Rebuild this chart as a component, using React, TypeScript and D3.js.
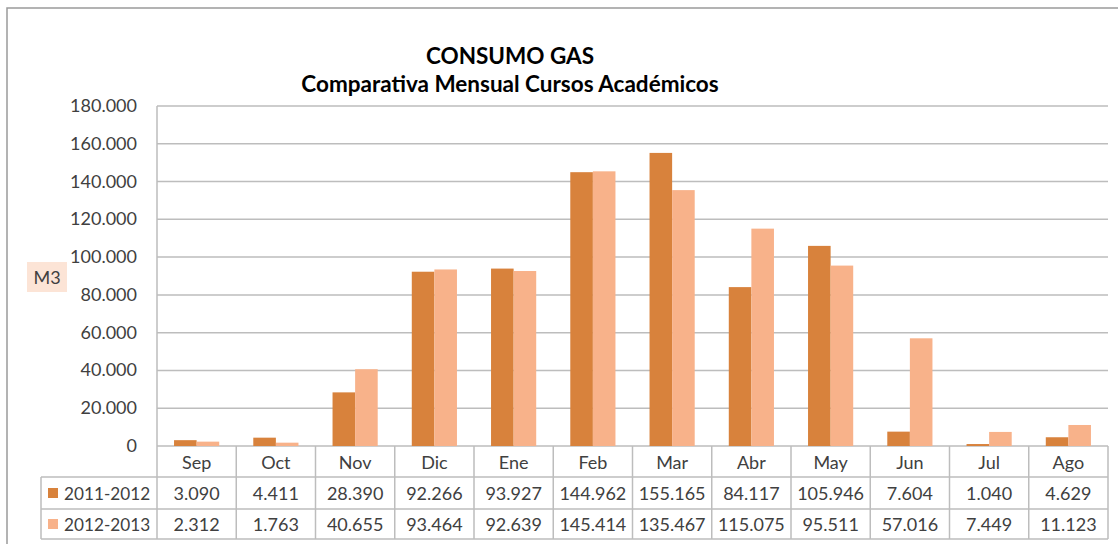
import React from "react";
import * as d3 from "d3";

const months = ["Sep", "Oct", "Nov", "Dic", "Ene", "Feb", "Mar", "Abr", "May", "Jun", "Jul", "Ago"];
const seriesNames = ["2011-2012", "2012-2013"];
const values2011 = [3090, 4411, 28390, 92266, 93927, 144962, 155165, 84117, 105946, 7604, 1040, 4629];
const values2012 = [2312, 1763, 40655, 93464, 92639, 145414, 135467, 115075, 95511, 57016, 7449, 11123];
const yTicks = [0, 20000, 40000, 60000, 80000, 100000, 120000, 140000, 160000, 180000];
const colors = ["#D8823C", "#F8B28A"];
const titleLines = ["CONSUMO GAS", "Comparativa Mensual Cursos Académicos"];

const fmt = (v: number) => {
  const s = Math.round(v).toString();
  return s.replace(/\B(?=(\d{3})+(?!\d))/g, ".");
};

export default function App() {
  const W = 1118, H = 544;
  const left = 157, right = 1108, top = 106, zeroY = 446;
  const legendLeft = 41;
  const rowBottoms = [477, 509, 539];
  const font = "Lato, 'Open Sans', sans-serif";
  const textColor = "#404040";
  const grid = "#BDBDBD";
  const fs = 18;

  const x = d3.scaleBand<string>().domain(months).range([left, right]).paddingInner(0).paddingOuter(0);
  const y = d3.scaleLinear().domain([0, 180000]).range([zeroY, top]);
  const bw = x.bandwidth();
  const groupW = bw * 0.57;
  const xs = d3.scaleBand<string>().domain(seriesNames).range([0, groupW]).padding(0);
  const series = [values2011, values2012];

  return (
    <svg width={W} height={H} style={{ position: "absolute", left: 0, top: 0 }}>
      <rect x={0} y={0} width={W} height={H} fill="#fff" />
      <rect x={7} y={8} width={W + 10} height={H + 10} fill="#fff" stroke="#9A9A9A" strokeWidth={1.5} />

      {titleLines.map((t, i) => (
        <text key={t} x={510} y={64 + i * 28} textAnchor="middle" fontFamily={font} fontWeight={700} fontSize={22.5} fill="#000">
          {t}
        </text>
      ))}

      {/* gridlines */}
      {yTicks.map((t) => (
        <line key={t} x1={left} x2={right} y1={y(t)} y2={y(t)} stroke={grid} strokeWidth={1.5} />
      ))}
      {yTicks.map((t) => (
        <text key={"l" + t} x={137} y={y(t) + 6} textAnchor="end" fontFamily={font} fontSize={fs} fill={textColor}>
          {fmt(t)}
        </text>
      ))}
      <line x1={left} x2={left} y1={top} y2={zeroY} stroke={grid} strokeWidth={1.5} />

      {/* M3 label */}
      <rect x={27} y={262} width={40} height={30} fill="#FCE4D6" />
      <text x={47} y={284} textAnchor="middle" fontFamily={font} fontSize={fs} fill={textColor}>M3</text>

      {/* bars */}
      {series.map((vals, si) =>
        vals.map((v, i) => {
          const bx = (x(months[i]) as number) + (bw - groupW) / 2 + (xs(seriesNames[si]) as number);
          return (
            <rect key={si + "-" + i} x={bx} y={y(v)} width={xs.bandwidth()} height={zeroY - y(v)} fill={colors[si]} />
          );
        })
      )}

      {/* data table */}
      <g stroke={grid} strokeWidth={1.5} fill="none">
        <line x1={legendLeft} x2={right} y1={rowBottoms[0]} y2={rowBottoms[0]} />
        <line x1={legendLeft} x2={right} y1={rowBottoms[1]} y2={rowBottoms[1]} />
        <line x1={legendLeft} x2={right} y1={rowBottoms[2]} y2={rowBottoms[2]} />
        <line x1={legendLeft} x2={legendLeft} y1={rowBottoms[0]} y2={rowBottoms[2]} />
        {months.map((m) => (
          <line key={m} x1={x(m) as number} x2={x(m) as number} y1={zeroY} y2={rowBottoms[2]} />
        ))}
        <line x1={right} x2={right} y1={zeroY} y2={rowBottoms[2]} />
      </g>
      {months.map((m) => (
        <text key={"m" + m} x={(x(m) as number) + bw / 2} y={(zeroY + rowBottoms[0]) / 2 + 7} textAnchor="middle" fontFamily={font} fontSize={fs} fill={textColor}>
          {m}
        </text>
      ))}
      {series.map((vals, si) => {
        const rt = rowBottoms[si];
        const rb = rowBottoms[si + 1];
        const cy = (rt + rb) / 2 + 7;
        return (
          <g key={"row" + si}>
            <rect x={48} y={(rt + rb) / 2 - 5} width={10} height={10} fill={colors[si]} />
            <text x={64} y={cy} fontFamily={font} fontSize={17.2} fill={textColor}>{seriesNames[si]}</text>
            {vals.map((v, i) => (
              <text key={i} x={(x(months[i]) as number) + bw / 2} y={cy} textAnchor="middle" fontFamily={font} fontSize={fs} fill={textColor}>
                {fmt(v)}
              </text>
            ))}
          </g>
        );
      })}
    </svg>
  );
}
